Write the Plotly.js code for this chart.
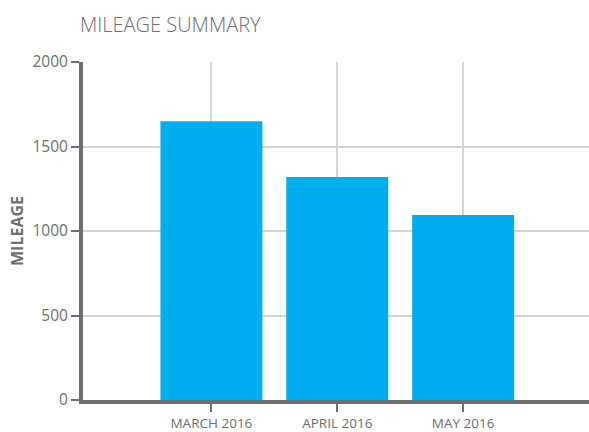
<!DOCTYPE html>
<html><head><meta charset="utf-8">
<script src="https://cdn.plot.ly/plotly-3.0.1.min.js"></script>
<style>html,body{margin:0;padding:0;background:#fff}#chart{width:589px;height:432px}</style>
</head><body><div id="chart"></div>
<script>
const categories = ["MARCH 2016", "APRIL 2016", "MAY 2016"];
const mileage = [1650, 1320, 1095];
const yTicks = [0, 500, 1000, 1500, 2000];

const axisColor = "#6d6e71";
const textColor = "#6d6e71";
const gridColor = "#d4d4d4";

Plotly.newPlot("chart", [{
  type: "bar",
  x: categories,
  y: mileage,
  marker: {color: "#00aeef"},
  hoverinfo: "x+y"
}], {
  width: 589, height: 432,
  margin: {l: 83, r: 0, t: 62, b: 32},
  paper_bgcolor: "#fff", plot_bgcolor: "#fff",
  bargap: 0.19,
  font: {family: "Open Sans, sans-serif", color: textColor},
  title: {text: "MILEAGE SUMMARY", x: 80 / 589, xref: "container", xanchor: "left",
          y: 0.943, yanchor: "middle", pad: {l: 0},
          font: {size: 20, color: textColor, family: "Open Sans, sans-serif", weight: 300}},
  xaxis: {
    type: "category", range: [-1.02, 3.0],
    showline: true, linecolor: axisColor, linewidth: 4,
    showgrid: true, gridcolor: gridColor, gridwidth: 2,
    ticks: "outside", ticklen: 8, tickwidth: 2, tickcolor: axisColor,
    tickfont: {size: 13.5, color: textColor},
    zeroline: false, fixedrange: true
  },
  yaxis: {
    range: [0, 2000], tickvals: yTicks, ticktext: yTicks.map(String),
    showline: true, linecolor: axisColor, linewidth: 4,
    showgrid: true, gridcolor: gridColor, gridwidth: 2,
    ticks: "outside", ticklen: 8, tickwidth: 2, tickcolor: axisColor,
    tickfont: {size: 15.5, color: textColor},
    zeroline: false, fixedrange: true,
    title: {text: "<b>MILEAGE</b>", standoff: 6, font: {size: 16, color: textColor}}
  },
  showlegend: false
}, {displayModeBar: false, staticPlot: true});
</script></body></html>
